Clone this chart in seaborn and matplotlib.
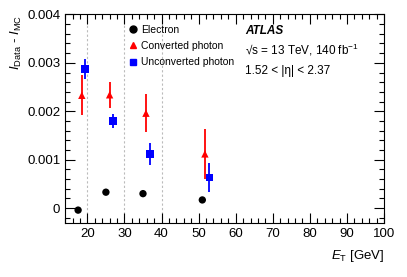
import numpy as np
import pandas as pd
import seaborn as sns
import matplotlib.pyplot as plt
from matplotlib.ticker import MultipleLocator, FuncFormatter
from matplotlib.lines import Line2D

# ---------------- data ----------------
electron_et = [17.5, 25.0, 35.0, 51.0]
electron_val = [-0.00004, 0.00033, 0.00030, 0.00017]
electron_err = [0.00001, 0.00001, 0.00001, 0.00001]

conv_et = [18.5, 26.0, 35.8, 51.7]
conv_val = [0.00233, 0.00234, 0.00196, 0.00112]
conv_err = [0.00041, 0.00027, 0.00039, 0.00051]

unconv_et = [19.4, 26.9, 36.9, 52.9]
unconv_val = [0.00287, 0.00180, 0.00112, 0.00063]
unconv_err = [0.00020, 0.00015, 0.00023, 0.00030]

bin_edges = [20, 30, 40]

labels = ["Electron", "Converted photon", "Unconverted photon"]
colors = {"Electron": "black", "Converted photon": "#ff0000", "Unconverted photon": "#0000ff"}
markers = {"Electron": "o", "Converted photon": "^", "Unconverted photon": "s"}

df = pd.concat([
    pd.DataFrame({"et": electron_et, "val": electron_val, "err": electron_err, "particle": labels[0]}),
    pd.DataFrame({"et": conv_et, "val": conv_val, "err": conv_err, "particle": labels[1]}),
    pd.DataFrame({"et": unconv_et, "val": unconv_val, "err": unconv_err, "particle": labels[2]}),
], ignore_index=True)

# ---------------- plot ----------------
sns.set_style("ticks")
plt.rcParams['font.family'] = ['Liberation Sans', 'DejaVu Sans']
plt.rcParams['mathtext.fontset'] = 'custom'
plt.rcParams['mathtext.rm'] = 'Liberation Sans'
plt.rcParams['mathtext.it'] = 'Liberation Sans:italic'
for key in ['text.color', 'axes.labelcolor', 'xtick.color', 'ytick.color', 'axes.edgecolor']:
    plt.rcParams[key] = 'black'

fig = plt.figure(figsize=(4.07, 2.77), dpi=100)
ax = fig.add_axes([0.16, 0.196, 0.7835, 0.752])

# eta-bin boundaries
for xb in bin_edges:
    ax.axvline(xb, color='#bbbbbb', linestyle=(0, (2, 2)), linewidth=0.8, zorder=0)

# error bars
for name, grp in df.groupby("particle"):
    ax.errorbar(grp["et"], grp["val"], yerr=grp["err"], fmt='none',
                ecolor=colors[name], elinewidth=1.3, capsize=0, zorder=2)

sns.scatterplot(data=df, x="et", y="val", hue="particle", style="particle",
                hue_order=labels, style_order=labels,
                palette=colors, markers=markers, s=28, edgecolor='none',
                legend=False, ax=ax, zorder=3)

ax.set_xlim(14, 100)
ax.set_ylim(-0.0003, 0.004)
ax.xaxis.set_major_locator(MultipleLocator(10))
ax.xaxis.set_minor_locator(MultipleLocator(2))
ax.yaxis.set_major_locator(MultipleLocator(0.001))
ax.yaxis.set_minor_locator(MultipleLocator(0.0002))
ax.yaxis.set_major_formatter(FuncFormatter(lambda v, p: "0" if abs(v) < 1e-9 else f"{v:.3f}"))
ax.tick_params(which='both', direction='in', top=True, right=True, labelsize=9.5, width=0.8)
ax.tick_params(which='major', length=7)
ax.tick_params(which='minor', length=3.5)
for sp in ax.spines.values():
    sp.set_linewidth(0.8)

ax.set_xlabel(r"$E_{\mathrm{T}}$ [GeV]", fontsize=9.5, loc='right', labelpad=6)
ax.set_ylabel(r"$I_{\mathrm{Data}}$ - $I_{\mathrm{MC}}$", fontsize=9.5, loc='top', labelpad=2)

# legend
handles = [Line2D([0], [0], color=colors[n], marker=markers[n], markersize=5,
                  linestyle='none') for n in labels]
ax.legend(handles, labels, loc='upper left', bbox_to_anchor=(0.17, 0.99),
          frameon=False, fontsize=7.5, handletextpad=0.3, labelspacing=0.6,
          handlelength=1.0, borderpad=0.3)

ax.text(0.565, 0.92, "ATLAS", transform=ax.transAxes, fontsize=8.5,
        fontweight='bold', fontstyle='italic', va='center')
ax.text(0.565, 0.83, "√s = 13 TeV, 140 fb$^{-1}$", transform=ax.transAxes,
        fontsize=8.5, va='center')
ax.text(0.565, 0.73, "1.52 < |η| < 2.37", transform=ax.transAxes, fontsize=8.5, va='center')

fig.savefig("out.png", dpi=100)
